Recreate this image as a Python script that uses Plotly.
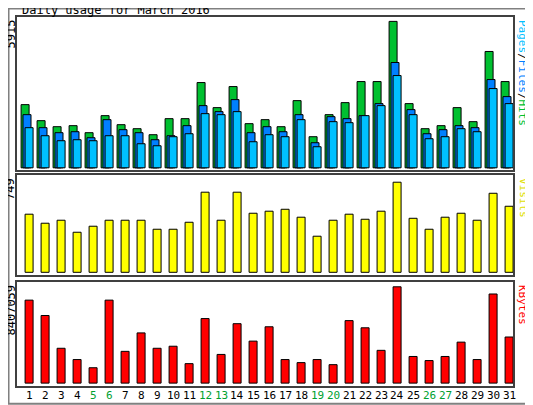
import plotly.graph_objects as go

days = list(range(1, 32))
weekend = [5, 6, 12, 13, 19, 20, 26, 27]
hits_px = [105,121,127,126,133,116,125,129,135,119,119,83,108,87,124,120,127,101,137,115,103,82,82,22,104,129,126,108,122,52,82]
files_px = [115,128,133,132,138,120,130,133,140,136,126,106,112,100,133,127,132,115,143,117,119,116,104,63,110,134,130,126,128,80,97]
pages_px = [128,136,141,140,141,136,136,144,146,137,134,114,115,112,142,135,137,120,147,122,123,116,106,76,115,139,137,129,132,89,104]
visits_px = [212,221,218,230,224,218,218,218,227,227,220,190,218,190,211,209,207,215,234,218,212,217,209,180,216,227,215,211,218,191,204]
kb_px = [301,316,348,359,367,301,351,333,348,346,363,319,354,324,341,327,359,362,359,364,321,328,350,288,356,360,356,342,359,295,337]

hits = [round((168 - v) / 146 * 5915) for v in hits_px]
files = [round((168 - v) / 146 * 5915) for v in files_px]
pages = [round((168 - v) / 146 * 5915) for v in pages_px]
visits = [round((270 - v) / 90 * 749) for v in visits_px]
kbytes = [round((382 - v) / 94 * 8407059) for v in kb_px]
hits[23] = 5915; visits[23] = 749; kbytes[23] = 8407059

W, H, OFF = 525, 397, 8
def X(px): return (px - OFF) / W
def Y(py): return 1 - (py - OFF) / H

fig = go.Figure()
line = dict(color="black", width=1)
fig.add_bar(x=days, y=hits, offset=-0.62, width=0.5, marker=dict(color="#00c030", line=line), xaxis="x", yaxis="y")
fig.add_bar(x=days, y=files, offset=-0.5, width=0.5, marker=dict(color="#0080ff", line=line), xaxis="x", yaxis="y")
fig.add_bar(x=days, y=pages, offset=-0.37, width=0.5, marker=dict(color="#00c0ff", line=line), xaxis="x", yaxis="y")
fig.add_bar(x=days, y=visits, offset=-0.37, width=0.5, marker=dict(color="#ffff00", line=line), xaxis="x2", yaxis="y2")
fig.add_bar(x=days, y=kbytes, offset=-0.37, width=0.5, marker=dict(color="#ff0000", line=line), xaxis="x3", yaxis="y3")

mono = "DejaVu Sans Mono"
ax = dict(range=[0.125, 31.125], showgrid=False, zeroline=False, showticklabels=False, ticks="",
          showline=True, mirror=True, linecolor="#404040", linewidth=2)
xd = [X(17), X(513)]
fig.update_layout(
    width=W, height=H, margin=dict(l=0, r=0, t=0, b=0),
    paper_bgcolor="white", plot_bgcolor="white", showlegend=False, barmode="overlay",
    xaxis=dict(ax, domain=xd, anchor="y"),
    xaxis2=dict(ax, domain=xd, anchor="y2"),
    xaxis3=dict(ax, domain=xd, anchor="y3"),
    yaxis=dict(ax, range=[-5915*0.015, 5915*1.03], domain=[Y(170), Y(17)], anchor="x"),
    yaxis2=dict(ax, range=[-749*0.03, 749*1.08], domain=[Y(275), Y(175)], anchor="x2"),
    yaxis3=dict(ax, range=[-8407059*0.03, 8407059*1.05], domain=[Y(386), Y(282)], anchor="x3"),
    font=dict(family=mono, size=12, color="black"),
    shapes=[dict(type="rect", xref="paper", yref="paper", x0=0.001, x1=0.997, y0=0.003, y1=0.999,
                 line=dict(color="#808080", width=2))],
)
def A(**k):
    d = dict(xref="paper", yref="paper", showarrow=False)
    d.update(k)
    return d
ann = [A(text="Daily usage for March 2016", x=X(20), y=Y(10), xanchor="left", yanchor="middle", font=dict(size=12)),
       A(text="5915", x=X(10), y=Y(18), textangle=-90, xanchor="center", yanchor="top"),
       A(text="749", x=X(10), y=Y(176), textangle=-90, xanchor="center", yanchor="top"),
       A(text="8407059", x=X(10), y=Y(283), textangle=-90, xanchor="center", yanchor="top"),
       A(text="<span style='color:#00c0ff'>Pages</span>/<span style='color:#0080ff'>Files</span>/<span style='color:#00c030'>Hits</span>",
         x=X(523), y=Y(18), textangle=90, xanchor="center", yanchor="top", font=dict(size=11)),
       A(text="Visits", x=X(523), y=Y(176), textangle=90, xanchor="center", yanchor="top", font=dict(size=11, color="#e0e000")),
       A(text="KBytes", x=X(523), y=Y(283), textangle=90, xanchor="center", yanchor="top", font=dict(size=11, color="#ff0000"))]
for d in days:
    ann.append(dict(text=str(d), x=d - 0.12, xref="x3", y=Y(395), yref="paper", showarrow=False,
                    xanchor="center", yanchor="middle", font=dict(size=11, color="#00a030" if d in weekend else "black")))
fig.update_layout(annotations=ann)
fig.write_html("out.html")
